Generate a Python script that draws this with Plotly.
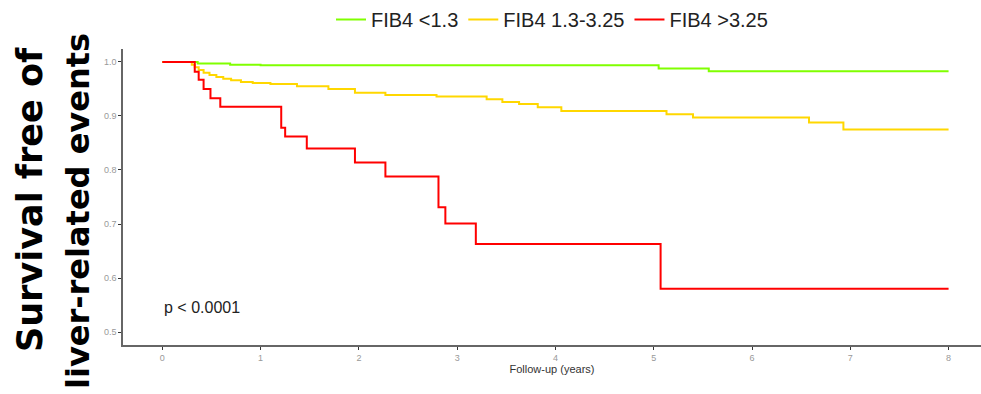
import plotly.graph_objects as go

# Kaplan-Meier step data (years, survival)
green_t = [0, 0.36, 0.69, 1.0, 5.05, 5.56, 8.0]
green_s = [1.0, 0.997, 0.995, 0.994, 0.988, 0.983, 0.983]

yellow_t = [0, 0.30, 0.33, 0.37, 0.42, 0.48, 0.55, 0.62, 0.70, 0.80, 0.92, 1.10, 1.37,
            1.69, 1.96, 2.27, 2.79, 3.30, 3.46, 3.63, 3.82, 4.06, 5.13, 5.40, 6.58, 6.93, 8.0]
yellow_s = [1.0, 0.995, 0.990, 0.985, 0.980, 0.976, 0.972, 0.969, 0.966, 0.963, 0.961, 0.959, 0.955,
            0.950, 0.943, 0.939, 0.936, 0.931, 0.926, 0.922, 0.916, 0.909, 0.903, 0.897, 0.888, 0.875, 0.875]

red_t = [0, 0.33, 0.37, 0.42, 0.49, 0.59, 1.21, 1.25, 1.47, 1.96, 2.27, 2.81, 2.88, 3.19, 5.07, 8.0]
red_s = [1.0, 0.982, 0.967, 0.950, 0.933, 0.917, 0.878, 0.862, 0.840, 0.814, 0.788, 0.731, 0.701, 0.663, 0.580, 0.580]

names = ["FIB4 <1.3", "FIB4 1.3-3.25", "FIB4 >3.25"]
colors = ["#80FF00", "#FFD700", "#FF0000"]

x_ticks = [0, 1, 2, 3, 4, 5, 6, 7, 8]
y_ticks = [0.5, 0.6, 0.7, 0.8, 0.9, 1.0]
y_title_lines = ["Survival free of", "liver-related events"]

fig = go.Figure()
for t, s, n, c in [(green_t, green_s, names[0], colors[0]),
                   (yellow_t, yellow_s, names[1], colors[1]),
                   (red_t, red_s, names[2], colors[2])]:
    fig.add_trace(go.Scatter(x=t, y=s, mode="lines", name=n,
                             line=dict(color=c, width=2, shape="hv")))

fig.add_annotation(x=0, y=0.545, xref="x", yref="y", text="p < 0.0001", showarrow=False,
                   xanchor="left", yanchor="middle",
                   font=dict(family="Liberation Sans, Arial", size=16, color="#222222"))

for txt, xs, ys, sz in [(y_title_lines[0], -93, -3, 35), (y_title_lines[1], -45, -14, 32)]:
    fig.add_annotation(xref="paper", yref="paper", x=0, y=0.5, xanchor="center", yanchor="middle",
                       xshift=xs, yshift=ys,
                       text=txt, textangle=-90, showarrow=False,
                       font=dict(family="DejaVu Sans, Lato", size=sz, color="#000000", weight="bold"))

fig.update_layout(
    width=981, height=394,
    margin=dict(l=123, r=0, t=49, b=49),
    paper_bgcolor="white", plot_bgcolor="white",
    showlegend=True,
    legend=dict(orientation="h", x=0.5, xanchor="center", y=1.035, yanchor="bottom",
                font=dict(family="Liberation Sans, Arial", size=20, color="#222222"),
                itemwidth=30, bgcolor="rgba(0,0,0,0)"),
    xaxis=dict(range=[-0.4, 8.33], tickvals=x_ticks, ticktext=[str(v) for v in x_ticks],
               showgrid=False, zeroline=False, showline=True, linecolor="#666666", linewidth=1.5,
               ticks="outside", ticklen=3, tickcolor="#333333",
               tickfont=dict(family="Liberation Sans, Arial", size=9, color="#999999"),
               title=dict(text="Follow-up (years)", standoff=4,
                          font=dict(family="Liberation Sans, Arial", size=11, color="#333333"))),
    yaxis=dict(range=[0.476, 1.024], tickvals=y_ticks, ticktext=["0.5", "0.6", "0.7", "0.8", "0.9", "1.0"],
               showgrid=False, zeroline=False, showline=True, linecolor="#666666", linewidth=1.5,
               ticks="outside", ticklen=3, tickcolor="#333333",
               tickfont=dict(family="Liberation Sans, Arial", size=9, color="#999999")),
)

fig.write_html("out.html")
